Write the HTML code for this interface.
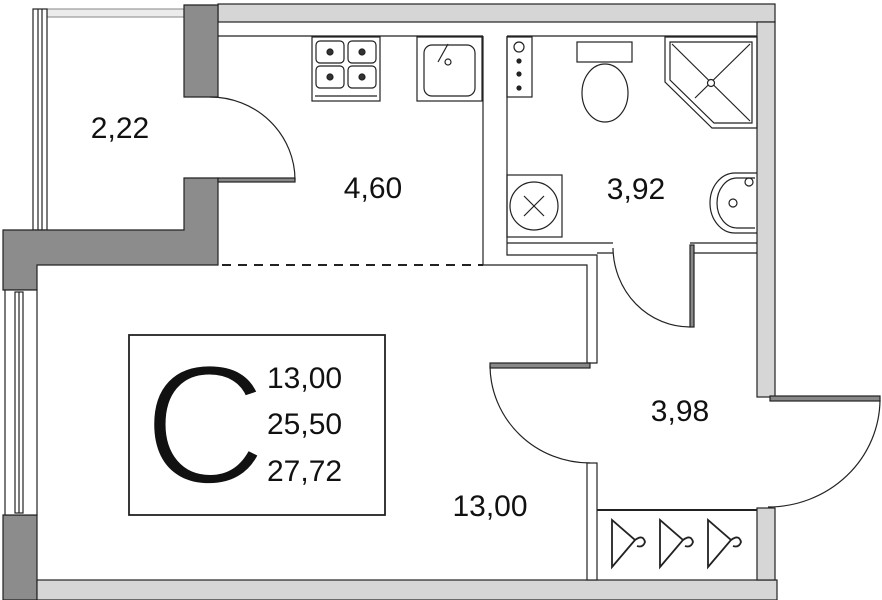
<!DOCTYPE html>
<html><head><meta charset="utf-8"><style>
html,body{margin:0;padding:0;background:#fff;}
svg{display:block}
text{font-family:"Liberation Sans",sans-serif;fill:#111}
</style></head><body>
<svg width="882" height="600" viewBox="0 0 882 600" xmlns="http://www.w3.org/2000/svg">
<g stroke="#222" stroke-width="1.2" fill="none">
<rect x="218" y="4" width="557" height="18" fill="#d6d6d6"/>
<line x1="218" y1="36" x2="483" y2="36"/>
<line x1="507" y1="36" x2="757" y2="36"/>
<rect x="47" y="9" width="137" height="8" fill="#ececec" stroke="#999"/>
<rect x="33" y="9" width="14" height="221" fill="#fff"/>
<line x1="38" y1="9" x2="38" y2="230"/><line x1="42" y1="9" x2="42" y2="230"/>
<path d="M184 5 H218 V97 H184 Z" fill="#8c8c8c"/>
<path d="M184 178 H218 V265 H37 V290 H3 V230 H184 Z" fill="#8c8c8c"/>
<path d="M3 515 H37 V600 H3 Z" fill="#8c8c8c"/>
<rect x="5" y="290" width="32" height="225" fill="#fff"/>
<rect x="15" y="292" width="8" height="221"/>
<line x1="19" y1="292" x2="19" y2="513"/>
<rect x="37" y="580" width="740" height="20" fill="#d6d6d6"/>
<rect x="757" y="22" width="18" height="375" fill="#d6d6d6"/>
<rect x="757" y="508" width="18" height="72" fill="#d6d6d6"/>
<path d="M483 36 V265 H587 V363 H597 V255 H507 V36" fill="#fff"/>
<path d="M507 243 H613 M690 243 H757 M690 253 H757 M597 253 H613"/>
<rect x="690" y="245" width="4" height="82" fill="#888"/>
<path d="M613 248 A77 80 0 0 0 690 327"/>
<rect x="587" y="463" width="10" height="117" fill="#fff"/>
<rect x="490" y="363" width="100" height="5" fill="#888"/>
<path d="M490 366 A100 98 0 0 0 590 463"/>
<rect x="770" y="396" width="110" height="5" fill="#888"/>
<path d="M880 400 A112 108 0 0 1 768 507"/>
<rect x="218" y="178" width="77" height="4" fill="#888"/>
<path d="M210 97 A85 83 0 0 1 295 180"/>
<line x1="222" y1="265" x2="483" y2="265" stroke-dasharray="9 7" stroke-width="2"/>
<line x1="597" y1="510" x2="757" y2="510" stroke-width="2"/>
<g stroke-width="1.8">
<path d="M612 520 V567 L635 540 Z M635 540 q8 -6 10 2 q-2 6 -8 4"/>
<path d="M660 520 V567 L683 540 Z M683 540 q8 -6 10 2 q-2 6 -8 4"/>
<path d="M708 520 V567 L731 540 Z M731 540 q8 -6 10 2 q-2 6 -8 4"/>
</g>
<rect x="312" y="37" width="68" height="64"/>
<rect x="316" y="41" width="28" height="22" rx="4"/><rect x="348" y="41" width="28" height="22" rx="4"/>
<rect x="316" y="66" width="28" height="22" rx="4"/><rect x="348" y="66" width="28" height="22" rx="4"/>
<g fill="#333"><circle cx="330" cy="52" r="3"/><circle cx="362" cy="52" r="3"/><circle cx="330" cy="77" r="3"/><circle cx="362" cy="77" r="3"/></g>
<line x1="315" y1="96" x2="377" y2="96"/>
<rect x="417" y="37" width="65" height="64"/>
<rect x="424" y="45" width="51" height="51" rx="8"/>
<line x1="438" y1="62" x2="448" y2="44"/><circle cx="448" cy="62" r="3"/>
<rect x="507" y="37" width="25" height="60"/>
<circle cx="519" cy="47" r="5"/>
<g fill="#222"><circle cx="519" cy="61" r="2"/><circle cx="519" cy="74" r="2"/><circle cx="519" cy="88" r="2"/></g>
<rect x="577" y="42" width="55" height="20"/>
<ellipse cx="605" cy="93" rx="23" ry="29"/>
<path d="M665 37 H757 V128 H712 L665 82 Z"/>
<path d="M670 42 H752 V123 H714 L670 80 Z"/>
<line x1="672" y1="44" x2="750" y2="121"/><line x1="750" y1="44" x2="695" y2="98"/>
<circle cx="711" cy="83" r="3.5" fill="#fff"/>
<rect x="507" y="175" width="55" height="62"/>
<circle cx="534" cy="206" r="24"/>
<line x1="524" y1="196" x2="544" y2="216"/><line x1="544" y1="196" x2="524" y2="216"/>
<path d="M757 173 H735 A25 30 0 0 0 735 233 H757"/>
<path d="M755 178 H737 A20 25 0 0 0 737 228 H755"/>
<circle cx="733" cy="203" r="4"/><circle cx="749" cy="182" r="4"/>
<rect x="129" y="335" width="256" height="180" stroke-width="1.8"/>
</g>
<text x="120" y="138" font-size="30" text-anchor="middle">2,22</text>
<text x="373" y="198" font-size="30" text-anchor="middle">4,60</text>
<text x="636" y="199" font-size="30" text-anchor="middle">3,92</text>
<text x="680" y="421" font-size="30" text-anchor="middle">3,98</text>
<text x="490" y="516" font-size="30" text-anchor="middle">13,00</text>
<text x="143" y="484" font-size="172" stroke="#fff" stroke-width="5">C</text>
<text x="267" y="388" font-size="30">13,00</text>
<text x="267" y="434" font-size="30">25,50</text>
<text x="267" y="481" font-size="30">27,72</text>
</svg>
</body></html>
